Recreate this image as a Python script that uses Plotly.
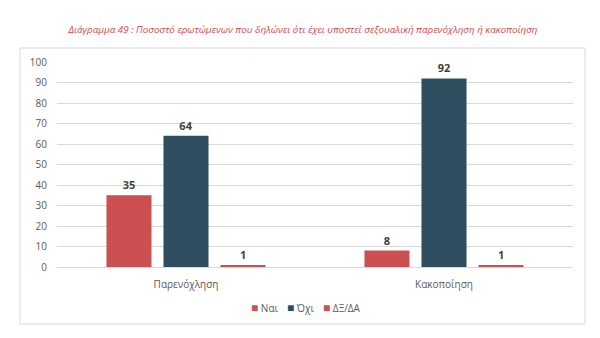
import plotly.graph_objects as go

categories = ["Παρενόχληση", "Κακοποίηση"]
series_names = ["Ναι", "Όχι", "ΔΞ/ΔΑ"]
nai = [35, 8]
ochi = [64, 92]
dxda = [1, 1]
title_text = "Διάγραμμα 49 : Ποσοστό ερωτώμενων που δηλώνει ότι έχει υποστεί σεξουαλική παρενόχληση ή κακοποίηση"

colors = ["#CB5052", "#2F4E5F", "#CB5052"]
values = [nai, ochi, dxda]

fig = go.Figure()
for name, vals, col in zip(series_names, values, colors):
    fig.add_trace(go.Bar(
        x=categories, y=vals, name=name, marker_color=col,
        marker_line_width=0,
        text=[str(v) for v in vals], textposition="outside",
        textfont=dict(family="Open Sans", size=11, color="#404040", weight="bold"),
        cliponaxis=False, showlegend=False,
    ))

L, R, T, B = 57, 27, 62, 71
W, H = 600, 338
pw, ph = W - L - R, H - T - B

def px_x(x):
    return (x - L) / pw

def px_y(y):
    return (T + ph - y) / ph

fig.update_layout(
    width=W, height=H,
    margin=dict(l=L, r=R, t=T, b=B),
    paper_bgcolor="white", plot_bgcolor="white",
    barmode="group", bargap=0.337, bargroupgap=0.21,
    font=dict(family="Open Sans", color="#595959"),
    title=dict(text=title_text, x=(303)/W, xanchor="center", y=1 - 30/H, yanchor="middle",
               font=dict(family="Open Sans", size=9.8, color="#D9464B", style="italic")),
    showlegend=False,
    yaxis=dict(range=[0, 100], dtick=10, showgrid=True, gridcolor="#D9D9D9", gridwidth=1,
               zeroline=True, zerolinecolor="#D9D9D9", zerolinewidth=1,
               tickfont=dict(size=10, color="#595959"), ticks="", ticklabelstandoff=9,
               fixedrange=True),
    xaxis=dict(showline=False, tickfont=dict(size=10, color="#595959"), ticks="",
               ticklabelstandoff=10),
)

fig.add_shape(type="rect", xref="paper", yref="paper",
              x0=px_x(20), x1=px_x(585), y0=px_y(324), y1=px_y(48),
              line=dict(color="#D9D9D9", width=1), fillcolor="rgba(0,0,0,0)", layer="below")

# legend drawn as text annotations (compact Excel-style legend)
legend_x = [249.5, 286, 322]
for name, col, lx in zip(series_names, colors, legend_x):
    fig.add_annotation(
        xref="paper", yref="paper", x=px_x(lx), y=px_y(307),
        xanchor="left", yanchor="middle", showarrow=False,
        text=f"<span style='color:{col};font-size:12px'>■</span> {name}",
        font=dict(family="Open Sans", size=10, color="#595959"),
        borderpad=0,
    )

fig.write_html("out.html")
